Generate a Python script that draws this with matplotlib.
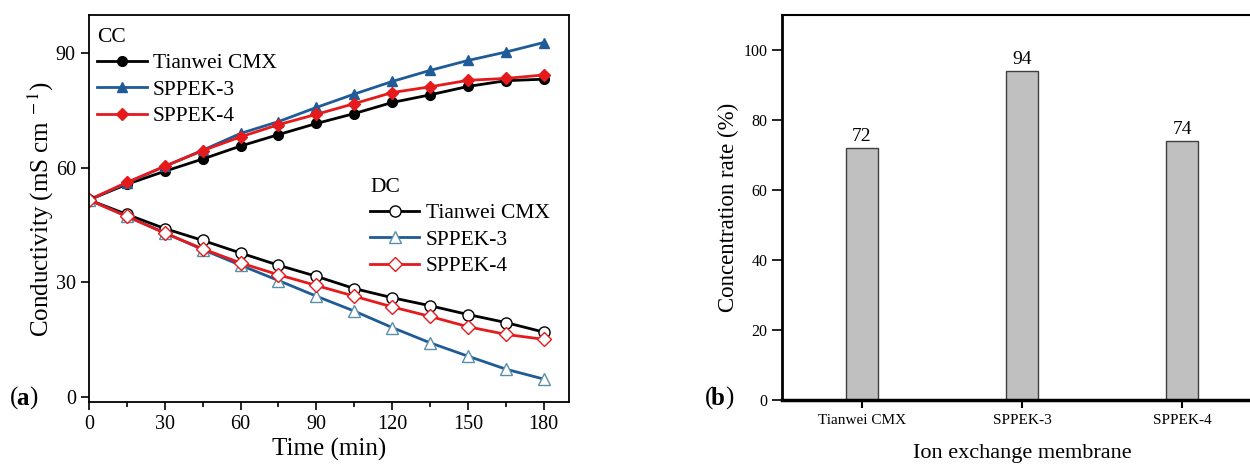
import matplotlib.pyplot as plt

plt.rcParams['font.family'] = ['Liberation Serif', 'DejaVu Serif']
plt.rcParams['mathtext.fontset'] = 'stix'

time_min = [0, 15, 30, 45, 60, 75, 90, 105, 120, 135, 150, 165, 180]

cc_tianwei = [51.6, 55.7, 59.1, 62.3, 65.7, 68.7, 71.6, 74.2, 77.1, 79.1, 81.3, 82.8, 83.2]
cc_sppek3 = [51.6, 56.0, 60.4, 64.6, 69.0, 72.1, 75.8, 79.3, 82.6, 85.5, 88.1, 90.3, 92.8]
cc_sppek4 = [51.6, 56.2, 60.4, 64.5, 68.1, 71.3, 74.0, 76.8, 79.7, 81.2, 82.9, 83.4, 84.3]

dc_tianwei = [51.6, 47.8, 44.1, 41.0, 37.7, 34.5, 31.6, 28.4, 26.0, 23.9, 21.6, 19.5, 17.0]
dc_sppek3 = [51.6, 47.3, 43.0, 38.6, 34.5, 30.5, 26.4, 22.5, 18.2, 14.2, 10.7, 7.3, 4.7]
dc_sppek4 = [51.6, 47.3, 42.9, 38.8, 35.1, 32.0, 29.2, 26.4, 23.6, 21.1, 18.4, 16.4, 15.1]

membranes = ['Tianwei CMX', 'SPPEK-3', 'SPPEK-4']
conc_rate = [72, 94, 74]

black = '#000000'
blue = '#1f5b96'
red = '#e41a1c'

fig = plt.figure(figsize=(12.5, 4.65), dpi=100)

# ---- (a) conductivity vs time
ax1 = fig.add_axes([89 / 1250, 1 - 402 / 465, 480 / 1250, 387 / 465])
ms = 7
h_cc = []
for y, c, m in [(cc_tianwei, black, 'o'), (cc_sppek3, blue, '^'), (cc_sppek4, red, 'D')]:
    ln, = ax1.plot(time_min, y, color=c, marker=m, lw=2, ms=ms if m != 'D' else ms - 1,
                   mfc=c, mec=c)
    h_cc.append(ln)
h_dc = []
for y, c, m in [(dc_tianwei, black, 'o'), (dc_sppek3, blue, '^'), (dc_sppek4, red, 'D')]:
    ln, = ax1.plot(time_min, y, color=c, marker=m, lw=2, ms=ms + 1 if m != 'D' else ms,
                   mfc='white', mec=c if c != blue else '#5a8fa8', mew=1)
    h_dc.append(ln)

ax1.set_xlim(0, 190)
ax1.set_ylim(-1.3, 100)
ax1.set_xticks([0, 30, 60, 90, 120, 150, 180])
ax1.set_xticks(range(15, 190, 30), minor=True)
ax1.set_yticks([0, 30, 60, 90])
ax1.tick_params(direction='out', labelsize=14.5, length=6, width=1.2)
ax1.tick_params(which='minor', direction='out', length=3.5, width=1.2)
for s in ax1.spines.values():
    s.set_linewidth(1.3)
ax1.set_xlabel('Time (min)', fontsize=18, labelpad=3)
ax1.set_ylabel('Conductivity (mS cm$^{\\ -1}$)', fontsize=18, labelpad=0)

labels = ['Tianwei CMX', 'SPPEK-3', 'SPPEK-4']
leg_kw = dict(loc='upper left', frameon=False, fontsize=15.5, title_fontsize=15.5,
              alignment='left', handlelength=2.3, handletextpad=0.3,
              labelspacing=0.3)
leg1 = ax1.legend(h_cc, labels, title='CC', borderaxespad=0.2,
                  bbox_to_anchor=(-0.01, 1.0), **leg_kw)
ax1.add_artist(leg1)
ax1.legend(h_dc, labels, title='DC', bbox_to_anchor=(0.545, 0.63), **leg_kw)

fig.text(10 / 1250, 1 - 398 / 465, '(', fontsize=18, va='center')
fig.text(16 / 1250, 1 - 398 / 465, 'a', fontsize=18, va='center', fontweight='bold')
fig.text(29 / 1250, 1 - 398 / 465, ')', fontsize=18, va='center')

# ---- (b) concentration rate
ax2 = fig.add_axes([782 / 1250, 1 - 400 / 465, 480 / 1250, 385 / 465])
ax2.bar(range(len(membranes)), conc_rate, width=0.2, color='#c0c0c0',
        edgecolor='#404040', linewidth=1)
for i, v in enumerate(conc_rate):
    ax2.text(i, v + 0.8, str(v), ha='center', va='bottom', fontsize=14)
ax2.set_xlim(-0.5, 2.5)
ax2.set_ylim(0, 110)
ax2.set_xticks(range(len(membranes)))
ax2.set_xticklabels(membranes, fontsize=11)
ax2.set_yticks(range(0, 101, 20))
ax2.tick_params(axis='y', labelsize=11.5, direction='out', length=7, width=1.2)
ax2.tick_params(axis='x', direction='out', length=6, width=1.5, pad=4)
ax2.spines['left'].set_linewidth(2)
ax2.spines['bottom'].set_linewidth(2.5)
ax2.spines['top'].set_linewidth(1.5)
ax2.spines['right'].set_linewidth(1.5)
ax2.set_xlabel('Ion exchange membrane', fontsize=16, labelpad=12)
ax2.set_ylabel('Concentration rate (%)', fontsize=16.5, labelpad=3)

fig.text(705 / 1250, 1 - 398 / 465, '(', fontsize=18, va='center')
fig.text(711 / 1250, 1 - 398 / 465, 'b', fontsize=18, va='center', fontweight='bold')
fig.text(725 / 1250, 1 - 398 / 465, ')', fontsize=18, va='center')

fig.savefig('out.png', dpi=100)
